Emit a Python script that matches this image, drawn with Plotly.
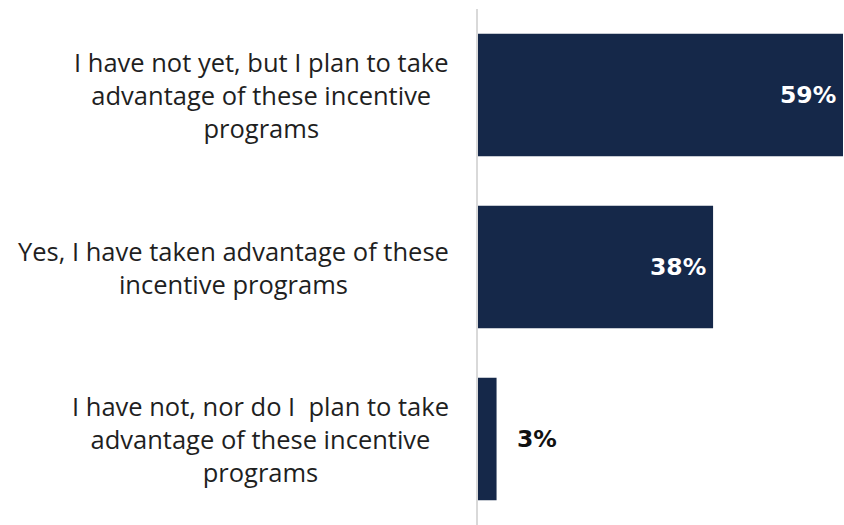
import plotly.graph_objects as go

# Survey responses and shares (percent)
categories = [
    "I have not yet, but I plan to take<br>advantage of these incentive<br>programs",
    "Yes, I have taken advantage of these<br>incentive programs",
    "I have not, nor do I  plan to take<br>advantage of these incentive<br>programs",
]
values = [59, 38, 3]
value_labels = [f"{v}%" for v in values]

BAR_COLOR = "#152849"
TEXT_COLOR = "#1f1f1f"

fig = go.Figure(
    go.Bar(
        x=values,
        y=categories,
        orientation="h",
        marker=dict(color=BAR_COLOR, line=dict(width=0)),
        hoverinfo="skip",
    )
)

annotations = []
# Category labels, centred text blocks right-aligned against the axis
for cat in categories:
    annotations.append(dict(
        x=0, xref="paper", y=cat, yref="y",
        text=cat, showarrow=False,
        xanchor="right", yanchor="middle", align="center", xshift=-27,
        font=dict(family="Open Sans", size=25.5, color=TEXT_COLOR),
    ))
# Value labels: inside the bar end for long bars, outside for short ones
for cat, v, lab in zip(categories, values, value_labels):
    inside = v >= 10
    annotations.append(dict(
        x=v, xref="x", y=cat, yref="y",
        text=f"<b>{lab}</b>", showarrow=False,
        xanchor="right" if inside else "left", yanchor="middle",
        xshift=-5 if inside else 18,
        font=dict(family="DejaVu Sans", size=23.5,
                  color="white" if inside else "#111111"),
    ))

fig.update_layout(
    width=844, height=525,
    margin=dict(l=478, r=1, t=9, b=0),
    paper_bgcolor="white", plot_bgcolor="white",
    bargap=0.287,
    showlegend=False,
    annotations=annotations,
    xaxis=dict(range=[0, 59], visible=False, fixedrange=True),
    yaxis=dict(
        categoryorder="array", categoryarray=categories, autorange="reversed",
        showticklabels=False, showgrid=False, zeroline=False,
        showline=True, linecolor="#d9d9d9", linewidth=2, ticks="",
        fixedrange=True,
    ),
)

fig.write_html("out.html")
